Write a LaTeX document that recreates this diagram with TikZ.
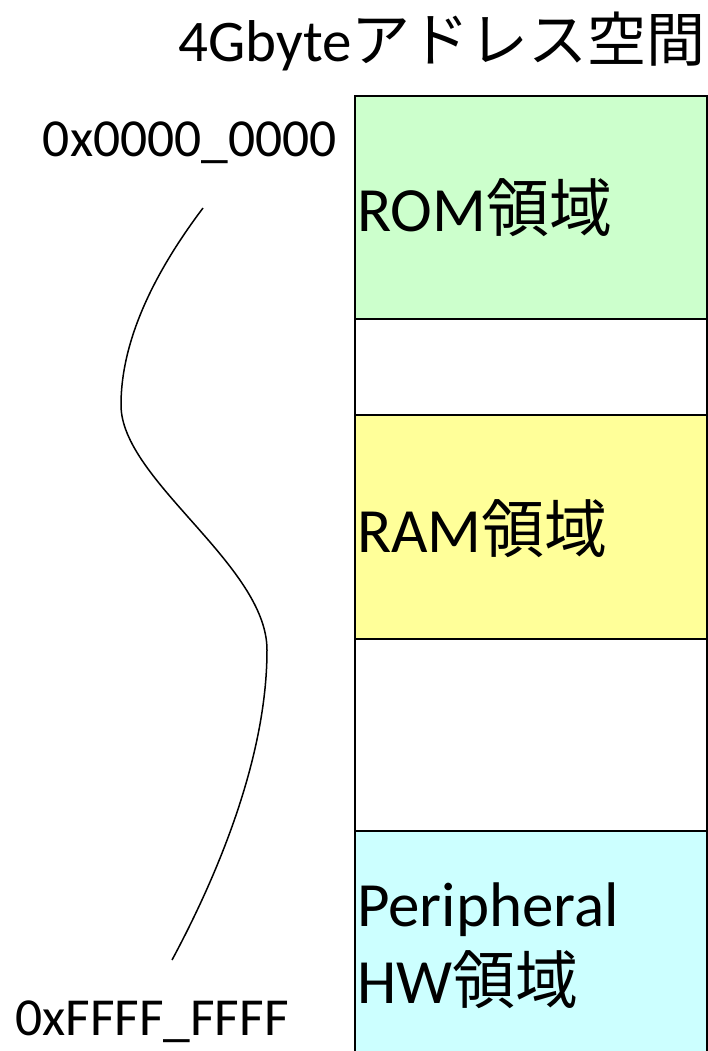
\documentclass[tikz,border=0pt]{standalone}
\usepackage{fontspec}
\setmainfont{Carlito}
\newfontfamily\jpfont{Noto Sans CJK JP}
\begin{document}
\begin{tikzpicture}[x=1pt,y=-1pt,
  region/.style={draw=black,line width=1.6pt},
  lbl/.style={inner sep=0pt,anchor=base west,font=\fontsize{63pt}{75pt}\selectfont},
  addr/.style={inner sep=0pt,font=\fontsize{53.5pt}{64pt}\selectfont}]
\useasboundingbox (0,0) rectangle (708,1051);
% regions
\path[region,fill={rgb,255:red,204;green,255;blue,204}] (355,96) rectangle (707,319);
\path[region,fill=white] (355,319) rectangle (707,415);
\path[region,fill={rgb,255:red,255;green,255;blue,153}] (355,415) rectangle (707,639);
\path[region,fill=white] (355,639) rectangle (707,831);
\path[region,fill={rgb,255:red,204;green,255;blue,255}] (355,831) rectangle (707,1070);
% labels
\node[lbl] (rom) at (357,231) {ROM{\jpfont 領域}};
\node[lbl] (ram) at (357,552) {RAM{\jpfont 領域}};
\node[lbl] (per) at (357,926) {Peripheral};
\node[lbl] (hw) at (357,1003) {HW{\jpfont 領域}};
\node[inner sep=0pt,anchor=base east,font=\fontsize{59pt}{70pt}\selectfont] (title) at (706,62) {4Gbyte{\jpfont アドレス空間}};
\node[addr,anchor=base east] (top) at (337,157) {0x0000\_0000};
\node[addr,anchor=base west] (bot) at (15,1035) {0xFFFF\_FFFF};
% curve
\coordinate (c0) at (203,208);
\coordinate (c1) at (121,405);
\coordinate (c2) at (267,650);
\coordinate (c3) at (172,960);
\draw[line width=1.5pt] (c0) .. controls (160,265) and (121,335) .. (c1)
  .. controls (121,480) and (267,565) .. (c2)
  .. controls (267,760) and (215,880) .. (c3);
\end{tikzpicture}
\end{document}
